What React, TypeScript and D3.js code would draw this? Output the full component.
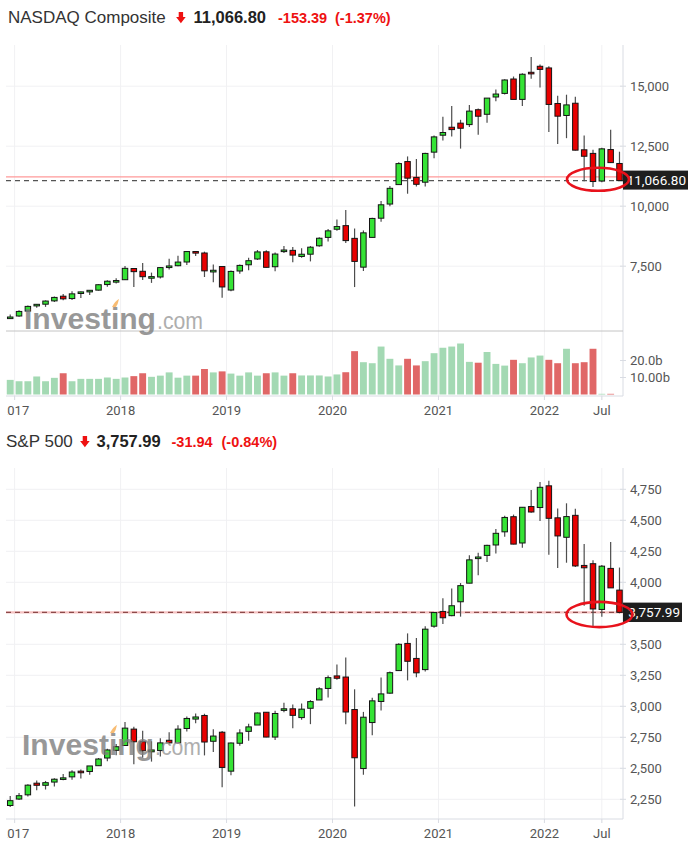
import React from "react";
import * as d3 from "d3";

// ---------- categories ----------
const months: Date[] = d3.timeMonth.range(new Date(2016, 11, 1), new Date(2022, 9, 1));
const monthKeys: string[] = months.map((d) => d3.timeFormat("%Y-%m")(d));
const yearTicks = ["2017", "2018", "2019", "2020", "2021", "2022"];
const monthTick = { key: "2022-07", label: "Jul" };

// ---------- NASDAQ Composite (monthly) ----------
const ndqOpen = [5323,5425,5630,5860,5917,6055,6250,6152,6373,6445,6503,6735,6848,6937,7404,7288,7016,7051,7474,7520,7675,8112,8050,7260,7486,6507,7300,7559,7800,8100,7478,8110,8160,7906,8000,8350,8700,9040,9190,8660,7460,8700,9500,10090,10900,11860,11200,11000,12252,12958,13290,13460,13400,14020,13830,14550,14700,15300,14450,15580,15830,15760,14280,13780,14290,12350,12200,11050,12360,11780];
const ndqHigh = [5487,5669,5867,5928,6075,6242,6342,6460,6444,6500,6747,6914,6994,7506,7419,7637,7233,7462,7806,7933,8133,8133,8107,7570,7486,7325,7575,7851,8176,8164,8070,8340,8300,8243,8340,8705,9052,9451,9838,9070,8990,9523,10221,10840,11829,12074,11965,12228,12950,13728,14175,13600,14212,14070,14510,14864,15288,15403,15540,16212,15901,15832,14600,14646,14560,12950,12350,12440,13181,12270];
const ndqLow = [5300,5398,5610,5768,5805,6011,6081,6087,6177,6300,6483,6640,6776,6924,6631,6922,6805,6983,7363,7500,7550,7924,7050,6830,6190,6457,7186,7333,7759,7446,7292,8050,7662,7850,7700,8310,8530,8980,8465,6631,7300,8683,9350,10000,10900,10520,10822,10822,12000,12740,12900,12400,13300,12975,13480,14370,14650,14500,14180,15310,14950,13094,12587,12834,12320,11035,10800,11000,11800,11050];
const ndqClose = [5383,5615,5825,5912,6048,6199,6140,6348,6429,6496,6728,6874,6903,7411,7273,7063,7066,7442,7510,7672,8110,8046,7306,7331,6635,7282,7533,7729,8095,7453,8006,8175,7963,7999,8292,8665,8973,9151,8567,7700,8890,9490,10059,10745,11775,11168,10912,12199,12888,13070,13192,13247,13962,13749,14504,14673,15259,14449,15498,15537,15700,14240,13751,14221,12335,12081,11028,12390,11816,11066.8];
const ndqVolume = [8.6,7.8,7.8,10.6,7.8,9.8,12.5,7.8,9.2,9.2,9.2,10.0,9.2,10.0,10.8,12.5,10.4,11.1,13.0,9.9,11.1,11.1,15.0,13.0,13.6,12.3,11.1,13.0,11.1,12.5,13.0,11.1,12.5,11.2,11.2,11.2,10.6,11.8,13.1,25.5,19.0,18.4,28.2,21.0,17.1,21.0,17.1,19.6,24.3,27.5,28.2,30.0,19.2,18.7,25.0,18.0,17.0,20.4,18.4,21.8,22.9,20.4,18.4,26.9,18.4,19.0,26.9,0.4,0.4];
const ndqVolumeUp = [1,1,1,1,1,1,0,1,1,1,1,1,1,1,0,0,1,1,1,1,1,0,0,1,0,1,1,1,1,0,1,1,0,1,1,1,1,1,0,0,1,1,1,1,1,0,0,1,1,1,1,1,1,0,1,1,1,0,1,1,1,0,0,1,0,0,0,1,0];
const ndqTicks = [7500, 10000, 12500, 15000];
const ndqLast = 11066.8;
const ndqPrev = 11220.19;
const ndqChange = "-153.39";
const ndqPct = "(-1.37%)";
const volTicks = [10, 20];
const volTickLabels = ["10.00b", "20.0b"];

// ---------- S&P 500 (monthly) ----------
const spOpen = [2200,2252,2286,2380,2363,2389,2416,2431,2477,2474,2521,2583,2645,2684,2816,2715,2633,2643,2726,2705,2821,2897,2926,2718,2791,2477,2702,2798,2849,2952,2752,2971,2980,2909,2984,3051,3144,3245,3236,2974,2498,2869,3039,3106,3288,3507,3386,3296,3646,3765,3731,3843,3993,4192,4217,4301,4407,4529,4317,4611,4603,4778,4520,4363,4540,4136,4150,3781,4112,3937];
const spHigh = [2277,2301,2371,2401,2398,2419,2454,2484,2491,2519,2583,2658,2695,2873,2836,2802,2718,2742,2791,2848,2917,2941,2940,2815,2800,2709,2814,2860,2950,2954,2964,3028,3014,3022,3050,3154,3248,3338,3394,3137,2955,3069,3233,3280,3509,3588,3550,3646,3760,3871,3950,3994,4219,4238,4302,4430,4537,4546,4608,4744,4809,4819,4595,4637,4593,4308,4178,4140,4325,4119];
const spLow = [2187,2245,2272,2322,2329,2353,2404,2408,2417,2447,2520,2557,2605,2682,2533,2586,2554,2595,2692,2699,2796,2864,2604,2631,2347,2444,2682,2722,2849,2751,2729,2952,2822,2892,2856,3051,3070,3215,2856,2192,2448,2767,2966,3101,3285,3209,3234,3280,3633,3663,3726,3723,3993,4057,4164,4233,4368,4306,4279,4560,4495,4223,4115,4158,4124,3810,3637,3722,3955,3750];
const spClose = [2239,2279,2364,2363,2384,2412,2423,2470,2472,2519,2575,2648,2674,2824,2714,2641,2648,2705,2705,2816,2902,2914,2712,2760,2507,2704,2785,2834,2946,2752,2942,2980,2927,2977,3038,3141,3231,3226,2954,2585,2912,3044,3100,3271,3500,3363,3270,3622,3756,3714,3811,3973,4181,4204,4298,4395,4523,4308,4605,4567,4766,4516,4374,4530,4132,4117,3785,4130,3955,3757.99];
const spTicks = [2250, 2500, 2750, 3000, 3250, 3500, 4000, 4250, 4500, 4750];
const spLast = 3757.99;
const spChange = "-31.94";
const spPct = "(-0.84%)";

// ---------- styles ----------
const UP = "#35e335";
const DOWN = "#e80000";
const VOL_UP = "#a3d9b3";
const VOL_DOWN = "#e06767";
const GRID = "#f1f1f3";
const AXIS = "#d9dce3";
const LABEL = "#555";
const TITLE_FONT = "'Liberation Sans', Arial, sans-serif";
const AXIS_FONT = "Roboto, 'Liberation Sans', Arial, sans-serif";
const RED_TXT = "#ee1111";

const fmt = d3.format(",.2f");
const fmtTick = d3.format(",");

type Candle = { o: number[]; h: number[]; l: number[]; c: number[] };

function Arrow({ x, y }: { x: number; y: number }) {
  return <path d={`M${x + 2.2},${y} h4.4 v5 h2.6 l-4.8,6.2 l-4.8,-6.2 h2.6 z`} fill={RED_TXT} />;
}

function Watermark({ x, y }: { x: number; y: number }) {
  return (
    <g style={{ pointerEvents: "none" }}>
      <text x={x} y={y} fontFamily={TITLE_FONT} fontWeight="bold" fontSize={30} fill="#7c7c7c" opacity={0.78}
        textLength={132} lengthAdjust="spacingAndGlyphs">Investing</text>
      <path d={`M${x + 88},${y - 22} q3,-6 7,-8 q-1,5 -3,8 z`} fill="#f7b05a" opacity={0.85} />
      <text x={x + 133} y={y} fontFamily={TITLE_FONT} fontSize={23} fill="#9a9a9a" opacity={0.8}
        textLength={46} lengthAdjust="spacingAndGlyphs">.com</text>
    </g>
  );
}

export default function App() {
  const x = d3.scaleBand<string>().domain(monthKeys).range([5.8, 623.9]).padding(0);
  const step = x.step();
  const cx = (k: string) => (x(k) as number) + step / 2;
  const bodyW = step * 0.62;
  const volW = step * 0.78;
  const left = 6;
  const right = 623;

  const yN = d3.scaleLinear().domain([7500, 15000]).range([266.2, 86.2]);
  const yV = d3.scaleLinear().domain([0, 20]).range([394.5, 360.5]);
  const yS = d3.scaleLinear().domain([2250, 4750]).range([799.3, 489.3]);

  const nTop = 45, nDiv = 331, nBot = 396;
  const sTop = 468, sBot = 819;

  const gridXs = [
    ...yearTicks.map((t) => ({ x: x(`${t}-01`) as number, label: t })),
    { x: cx(monthTick.key), label: monthTick.label },
  ];

  const candles = (d: Candle, y: d3.ScaleLinear<number, number>) =>
    monthKeys.map((k, i) => {
      const up = d.c[i] >= d.o[i];
      const xc = cx(k);
      const top = y(Math.max(d.o[i], d.c[i]));
      const bot = y(Math.min(d.o[i], d.c[i]));
      return (
        <g key={k}>
          <line x1={xc} x2={xc} y1={y(d.h[i])} y2={y(d.l[i])} stroke="#4d4d4d" strokeWidth={1.2} />
          <rect x={xc - bodyW / 2} y={top} width={bodyW} height={Math.max(bot - top, 1.6)}
            fill={up ? UP : DOWN} stroke="#141414" strokeWidth={1} />
        </g>
      );
    });

  const xAxis = (top: number, bottom: number, labelY: number) => (
    <g>
      {gridXs.map((g) => (
        <line key={"v" + g.label} x1={g.x} x2={g.x} y1={top} y2={bottom + 4} stroke={GRID} strokeWidth={1} />
      ))}
      {gridXs.map((g) => (
        <line key={"t" + g.label} x1={g.x} x2={g.x} y1={bottom} y2={bottom + 4} stroke={AXIS} strokeWidth={1} />
      ))}
      <line x1={left} x2={right} y1={bottom} y2={bottom} stroke={AXIS} strokeWidth={1} />
      <line x1={right} x2={right} y1={top} y2={bottom} stroke={AXIS} strokeWidth={1} />
      <g clipPath="url(#leftClip)">
        {gridXs.map((g) => (
          <text key={"l" + g.label} x={g.x} y={labelY} textAnchor="middle" fontFamily={AXIS_FONT} fontSize={13} fill={LABEL}>
            {g.label}
          </text>
        ))}
      </g>
    </g>
  );

  const yAxis = (ticks: number[], y: d3.ScaleLinear<number, number>, labels?: string[], grid = true) => (
    <g>
      {grid && ticks.map((t) => (
        <line key={"g" + t} x1={left} x2={right} y1={y(t)} y2={y(t)} stroke={GRID} strokeWidth={1} />
      ))}
      {ticks.map((t, i) => (
        <g key={"t" + t}>
          <line x1={right - 3} x2={right + 3} y1={y(t)} y2={y(t)} stroke={AXIS} strokeWidth={1} />
          <text x={630} y={y(t)} dy="0.36em" fontFamily={AXIS_FONT} fontSize={13} fill={LABEL}>
            {labels ? labels[i] : fmtTick(t)}
          </text>
        </g>
      ))}
    </g>
  );

  const ndq: Candle = { o: ndqOpen, h: ndqHigh, l: ndqLow, c: ndqClose };
  const sp: Candle = { o: spOpen, h: spHigh, l: spLow, c: spClose };

  return (
    <svg width={690} height={856} viewBox="0 0 690 856"
      style={{ position: "absolute", left: 0, top: 0, display: "block", background: "#fff" }}>
      <defs>
        <clipPath id="leftClip">
          <rect x={7} y={0} width={683} height={856} />
        </clipPath>
      </defs>
      <rect x={0} y={0} width={690} height={856} fill="#fff" />

      {/* ===== NASDAQ title ===== */}
      <text x={8} y={23} fontFamily={TITLE_FONT} fontSize={17} fill="#333">NASDAQ Composite</text>
      <Arrow x={176.5} y={12} />
      <text x={193.5} y={23} fontFamily={TITLE_FONT} fontSize={16.5} fontWeight="bold" fill="#222">{fmt(ndqLast)}</text>
      <text x={278} y={23} fontFamily={TITLE_FONT} fontSize={14.5} fontWeight="bold" fill={RED_TXT}>{ndqChange}</text>
      <text x={335} y={23} fontFamily={TITLE_FONT} fontSize={14.5} fontWeight="bold" fill={RED_TXT}>{ndqPct}</text>

      {/* ===== NASDAQ chart ===== */}
      {xAxis(nTop, nBot, 415)}
      {yAxis(ndqTicks, yN)}
      <line x1={left} x2={right} y1={nDiv} y2={nDiv} stroke="#c4c4c4" strokeWidth={1} />
      {/* volume */}
      {ndqVolume.map((v, i) => (
        <rect key={"vol" + i} x={cx(monthKeys[i]) - volW / 2} y={yV(v)} width={volW} height={yV(0) - yV(v)}
          fill={ndqVolumeUp[i] ? VOL_UP : VOL_DOWN} />
      ))}
      {yAxis(volTicks, yV, volTickLabels, false)}
      {/* price lines */}
      <line x1={left} x2={right} y1={yN(ndqPrev)} y2={yN(ndqPrev)} stroke="#ff9a9a" strokeWidth={1.2} />
      <line x1={left} x2={right} y1={yN(ndqLast)} y2={yN(ndqLast)} stroke="#555" strokeWidth={1.2} strokeDasharray="5,4" />
      {candles(ndq, yN)}
      <Watermark x={24} y={329} />
      <rect x={623} y={yN(ndqLast) - 10} width={65} height={19} fill="#1e1e1e" />
      <text x={686} y={yN(ndqLast)} dy="0.36em" textAnchor="end" fontFamily={AXIS_FONT} fontSize={13.5} fill="#fff">{fmt(ndqLast)}</text>
      <ellipse cx={598} cy={179.3} rx={31} ry={11.5} fill="none" stroke="#e8121c" strokeWidth={2.6} />

      {/* ===== S&P title ===== */}
      <text x={6} y={447} fontFamily={TITLE_FONT} fontSize={17} fill="#333">{"S&P 500"}</text>
      <Arrow x={80.5} y={436} />
      <text x={96.5} y={447} fontFamily={TITLE_FONT} fontSize={16.5} fontWeight="bold" fill="#222">{fmt(spLast)}</text>
      <text x={171.5} y={447} fontFamily={TITLE_FONT} fontSize={14.5} fontWeight="bold" fill={RED_TXT}>{spChange}</text>
      <text x={221.5} y={447} fontFamily={TITLE_FONT} fontSize={14.5} fontWeight="bold" fill={RED_TXT}>{spPct}</text>

      {/* ===== S&P chart ===== */}
      {xAxis(sTop, sBot, 838)}
      {yAxis(spTicks, yS)}
      <line x1={left} x2={right} y1={yS(spLast)} y2={yS(spLast)} stroke="#f6c2c2" strokeWidth={2.2} />
      <line x1={left} x2={right} y1={yS(spLast)} y2={yS(spLast)} stroke="#8c4a4a" strokeWidth={1.2} strokeDasharray="5,4" />
      {candles(sp, yS)}
      <Watermark x={22} y={755} />
      <rect x={623} y={yS(spLast) - 9.7} width={59} height={19.4} fill="#1e1e1e" />
      <text x={680} y={yS(spLast)} dy="0.36em" textAnchor="end" fontFamily={AXIS_FONT} fontSize={13.5} fill="#fff">{fmt(spLast)}</text>
      <ellipse cx={599.5} cy={614.5} rx={33} ry={12.6} fill="none" stroke="#e8121c" strokeWidth={2.6} />
    </svg>
  );
}
